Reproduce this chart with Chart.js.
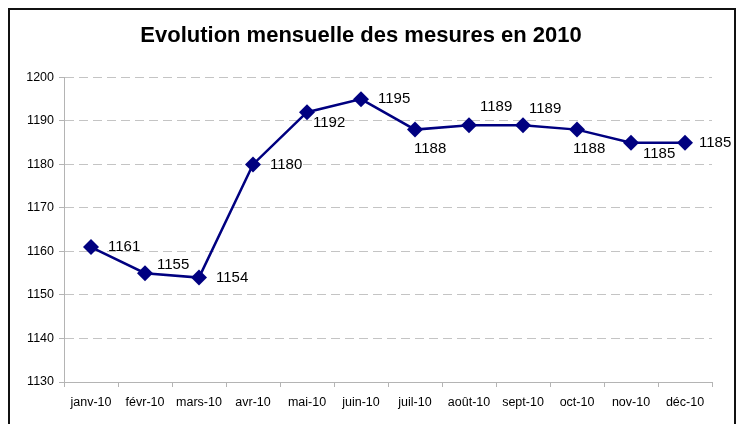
<!DOCTYPE html>
<html>
<head>
<meta charset="utf-8">
<script src="https://cdn.jsdelivr.net/npm/chart.js@4/dist/chart.umd.min.js"></script>
<style>
  html, body { margin: 0; padding: 0; background: #fff; }
  #wrap { width: 742px; height: 424px; }
</style>
</head>
<body>
<div id="wrap"><canvas id="mesuresChart" width="742" height="424"></canvas></div>
<script>
const months = ["janv-10", "févr-10", "mars-10", "avr-10", "mai-10", "juin-10",
                "juil-10", "août-10", "sept-10", "oct-10", "nov-10", "déc-10"];
const mesures = [1161, 1155, 1154, 1180, 1192, 1195, 1188, 1189, 1189, 1188, 1185, 1185];
const yMin = 1130;
const yMax = 1200;
const yStep = 10;

const FONT = "Arial, 'Liberation Sans', sans-serif";

// where each value label sits relative to its marker (dx, dy in px), like Excel's auto placement
const labelOffsets = [
  [17, 0], [12, -8], [17, 0], [17, 0], [6, 11], [17, 0],
  [-1, 19], [11, -18], [6, -16], [-4, 19], [12, 11], [14, 0],
];

const frameAndLabels = {
  id: "frameAndLabels",
  beforeDraw(chart) {
    const ctx = chart.ctx;
    ctx.save();
    ctx.fillStyle = "#fff";
    ctx.fillRect(0, 0, chart.width, chart.height);
    ctx.restore();
  },
  afterDatasetsDraw(chart) {
    const ctx = chart.ctx;
    const meta = chart.getDatasetMeta(0);
    ctx.save();
    ctx.font = "15px " + FONT;
    ctx.fillStyle = "#000";
    ctx.textAlign = "left";
    ctx.textBaseline = "middle";
    meta.data.forEach((pt, i) => {
      const off = labelOffsets[i] || [14, 0];
      ctx.fillText(String(mesures[i]), pt.x + off[0], pt.y + off[1]);
    });
    ctx.restore();
  },
  afterDraw(chart) {
    const ctx = chart.ctx;
    ctx.save();
    ctx.strokeStyle = "#111";
    ctx.lineWidth = 2;
    ctx.strokeRect(9, 9, 726, 440);
    ctx.restore();
  },
};

new Chart(document.getElementById("mesuresChart").getContext("2d"), {
  type: "line",
  data: {
    labels: months,
    datasets: [
      {
        label: "Mesures",
        data: mesures,
        borderColor: "#000080",
        backgroundColor: "#000080",
        borderWidth: 2.5,
        pointStyle: "rectRot",
        pointRadius: 8,
        pointHoverRadius: 8,
        pointBorderWidth: 0,
        tension: 0,
        fill: false,
      },
    ],
  },
  options: {
    responsive: false,
    animation: false,
    devicePixelRatio: 1,
    layout: { padding: { left: 10, right: 30, top: 10, bottom: 12 } },
    plugins: {
      legend: { display: false },
      tooltip: { enabled: false },
      title: {
        display: true,
        text: "Evolution mensuelle des mesures en 2010",
        color: "#000",
        font: { family: FONT, size: 22, weight: "bold" },
        padding: { top: 13, bottom: 28 },
      },
    },
    scales: {
      x: {
        offset: true,
        grid: {
          offset: true,
          drawOnChartArea: false,
          drawTicks: true,
          tickLength: 5,
          color: "#b4b4b4",
        },
        border: { display: true, color: "#b4b4b4", width: 1 },
        ticks: {
          color: "#000",
          font: { family: FONT, size: 12.5 },
          padding: 8,
          maxRotation: 0,
          autoSkip: false,
        },
        afterFit(scale) { scale.height = 30; },
      },
      y: {
        min: yMin,
        max: yMax,
        grid: {
          color: "#c4c4c4",
          tickColor: "#b4b4b4",
          tickLength: 5,
          tickBorderDash: [],
        },
        border: { display: true, color: "#b4b4b4", width: 1, dash: [9, 5] },
        ticks: {
          stepSize: yStep,
          color: "#000",
          font: { family: FONT, size: 12.5 },
          padding: 5,
          callback: (v) => String(v),
        },
        afterFit(scale) { scale.width = 54; },
      },
    },
  },
  plugins: [frameAndLabels],
});
</script>
</body>
</html>
